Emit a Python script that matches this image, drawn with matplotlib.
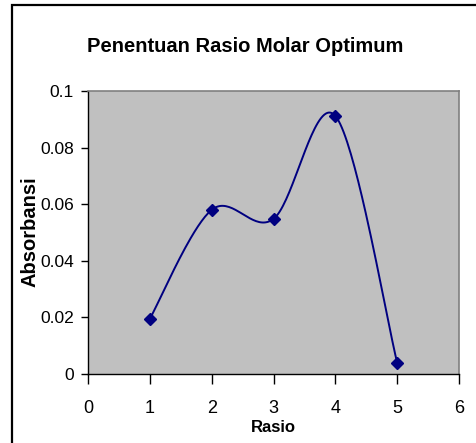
import numpy as np
import matplotlib
matplotlib.use("Agg")
import matplotlib.pyplot as plt
from matplotlib.patches import Rectangle

rasio = [1, 2, 3, 4, 5]
absorbansi = [0.0195, 0.058, 0.0548, 0.0912, 0.004]
x_ticks = [0, 1, 2, 3, 4, 5, 6]
y_ticks = [0, 0.02, 0.04, 0.06, 0.08, 0.1]
y_tick_labels = ["0", "0.02", "0.04", "0.06", "0.08", "0.1"]
title = "Penentuan Rasio Molar Optimum"
xlabel = "Rasio"
ylabel = "Absorbansi"

FAM = ["Liberation Sans Narrow", "Liberation Sans", "DejaVu Sans"]
plt.rcParams["font.family"] = FAM


def smooth(xs, ys, n=40):
    # Excel-like smoothed line (Catmull-Rom through the points)
    xs = np.asarray(xs, float)
    ys = np.asarray(ys, float)
    px = np.concatenate([[xs[0]], xs, [xs[-1]]])
    py = np.concatenate([[ys[0]], ys, [ys[-1]]])
    outx, outy = [], []
    for i in range(1, len(px) - 2):
        p0 = np.array([px[i - 1], py[i - 1]])
        p1 = np.array([px[i], py[i]])
        p2 = np.array([px[i + 1], py[i + 1]])
        p3 = np.array([px[i + 2], py[i + 2]])
        c1 = p1 + (p2 - p0) / 6.0
        c2 = p2 - (p3 - p1) / 6.0
        t = np.linspace(0, 1, n)[:, None]
        b = ((1 - t) ** 3) * p1 + 3 * ((1 - t) ** 2) * t * c1 + 3 * (1 - t) * t ** 2 * c2 + t ** 3 * p2
        outx.extend(b[:, 0])
        outy.extend(b[:, 1])
    return np.array(outx), np.array(outy)


fig = plt.figure(figsize=(4.76, 4.43), dpi=100)
fig.patch.set_facecolor("white")
fig.patches.append(Rectangle((12 / 476, -0.1), 1.2, 1.1 - 5 / 443, transform=fig.transFigure,
                             fill=False, edgecolor="black", linewidth=1.6))

ax = fig.add_axes([88 / 476, 1 - 374 / 443, (459 - 88) / 476, (374 - 91) / 443])
ax.set_facecolor("#C0C0C0")

sx, sy = smooth(rasio, absorbansi)
ax.plot(sx, sy, color="#000080", linewidth=1.4, zorder=3)
ax.plot(rasio, absorbansi, linestyle="none", marker="D", markersize=6.5,
        color="#000080", zorder=4, clip_on=False)

ax.set_xlim(0, 6)
ax.set_ylim(0, 0.1)
ax.set_xticks(x_ticks)
ax.set_yticks(y_ticks)
ax.set_yticklabels(y_tick_labels)

for s in ["top", "right"]:
    ax.spines[s].set_color("#808080")
    ax.spines[s].set_linewidth(1.2)
for s in ["left", "bottom"]:
    ax.spines[s].set_color("black")
    ax.spines[s].set_linewidth(1.0)

ax.tick_params(axis="x", direction="out", length=7, width=1, pad=12, labelsize=13)
ax.tick_params(axis="y", direction="out", length=5, width=1, pad=5, labelsize=12.5)

fig.text(245 / 476, 1 - 47 / 443, title, ha="center", va="center",
         fontsize=14.5, fontweight="bold")
fig.text(273 / 476, 1 - 428 / 443, xlabel, ha="center", va="center",
         fontsize=12, fontweight="bold")
fig.text(30 / 476, 1 - 232 / 443, ylabel, ha="center", va="center",
         rotation=90, fontsize=14.5, fontweight="bold")

fig.savefig("out.png", dpi=100)
